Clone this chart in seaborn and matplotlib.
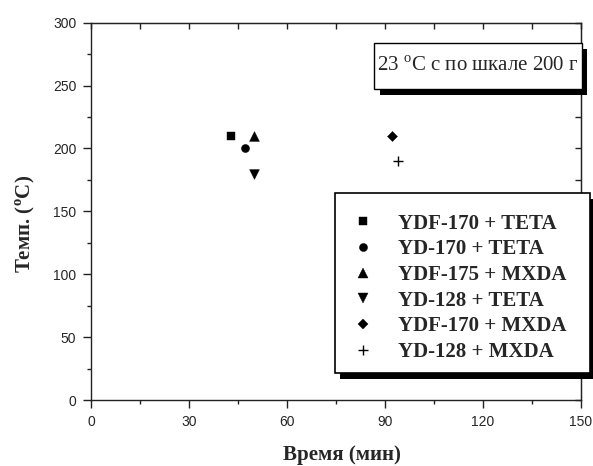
# Время отверждения vs температура для разных систем смола + отвердитель
import numpy as np
import pandas as pd
import seaborn as sns
import matplotlib.pyplot as plt
from matplotlib.lines import Line2D
from matplotlib.patches import Rectangle
from matplotlib.transforms import IdentityTransform

# data
systems = ["YDF-170 + TETA", "YD-170 + TETA", "YDF-175 + MXDA",
           "YD-128 + TETA", "YDF-170 + MXDA", "YD-128 + MXDA"]
time_min = [43, 47, 50, 50, 92, 94]
temp_c = [210, 200, 210, 180, 210, 190]
markers = ["s", "o", "^", "v", "D", "+"]
marker_sizes = [26, 34, 50, 50, 26, 45]

x_ticks = [0, 30, 60, 90, 120, 150]
y_ticks = [0, 50, 100, 150, 200, 250, 300]
note = "23 $^{\\mathrm{o}}$C с по шкале 200 г"

df = pd.DataFrame({"time": time_min, "temp": temp_c, "system": systems})

sns.set_style("ticks")
plt.rcParams["font.family"] = ["Liberation Serif", "DejaVu Serif"]
plt.rcParams["mathtext.fontset"] = "custom"
plt.rcParams["mathtext.rm"] = "Liberation Serif"
plt.rcParams["mathtext.bf"] = "Liberation Serif:bold"

fig = plt.figure(figsize=(5.93, 4.66), dpi=100)
ax = fig.add_axes([91 / 593, 66 / 466, 490 / 593, 377.3 / 466])

# one call per system, the markers mix filled and line art
for i, row in df.iterrows():
    lw = 1.0 if markers[i] == "+" else 0.3
    sns.scatterplot(x=[row["time"]], y=[row["temp"]], marker=markers[i],
                    s=marker_sizes[i], color="black", edgecolor="black",
                    linewidth=lw, ax=ax, legend=False, zorder=3)

ax.set_xlim(0, 150)
ax.set_ylim(0, 300)
ax.set_xticks(x_ticks)
ax.set_yticks(y_ticks)
ax.set_xticks(np.arange(15, 150, 30), minor=True)
ax.set_yticks(np.arange(25, 300, 50), minor=True)

for sp in ax.spines.values():
    sp.set_linewidth(1.0)
    sp.set_color("#222222")
ax.tick_params(which="major", direction="out", length=5.5, width=1.0,
               color="#222222", labelsize=10, labelcolor="#262626", pad=5)
ax.tick_params(which="minor", direction="out", length=3.2, width=1.0,
               color="#222222")
for lbl in ax.get_xticklabels() + ax.get_yticklabels():
    lbl.set_family("Liberation Sans")

# mirrored inward ticks on top and right
top = ax.secondary_xaxis("top")
top.set_xticks(np.arange(0, 151, 15))
top.tick_params(direction="in", length=4, width=1.0, color="#222222",
                labeltop=False)
right = ax.secondary_yaxis("right")
right.set_yticks(np.arange(0, 301, 25))
right.tick_params(direction="in", length=4, width=1.0, color="#222222",
                  labelright=False)

ax.set_xlabel("Время (мин)", fontsize=15, fontweight="bold")
ax.set_ylabel("Темп. ($^{\\mathbf{o}}$C)", fontsize=15, fontweight="bold")
ax.xaxis.set_label_coords(0.512, -0.12)
ax.yaxis.set_label_coords(-0.11, 0.467)

# note box with a black drop shadow
bx0, by0, bw, bh = 0.5776, 0.8243, 0.4244, 0.1219
ax.add_patch(Rectangle((bx0 + 0.0112, by0 - 0.0159), bw, bh, transform=ax.transAxes,
                       facecolor="black", edgecolor="none", zorder=6, clip_on=False))
ax.add_patch(Rectangle((bx0, by0), bw, bh, transform=ax.transAxes,
                       facecolor="white", edgecolor="black", linewidth=1.0,
                       zorder=7, clip_on=False))
ax.text(bx0 + bw / 2, by0 + bh / 2, note, transform=ax.transAxes,
        ha="center", va="center", fontsize=15, zorder=8)

handles = [Line2D([], [], ls="", marker=m, color="black", markersize=np.sqrt(s),
                  markeredgewidth=1.0 if m == "+" else 0.3)
           for m, s in zip(markers, marker_sizes)]
# blank tiny title only adds some room above the first row
leg = ax.legend(handles, systems, loc="upper left",
                bbox_to_anchor=(0.498, 0.0, 0.520, 0.5486), mode="expand",
                borderaxespad=0, borderpad=0.53, labelspacing=0.27,
                handlelength=1.63, handletextpad=0.87, fancybox=False,
                framealpha=1, edgecolor="black", title=" ", title_fontsize=3,
                prop={"family": "Liberation Serif", "weight": "bold", "size": 15})
leg.get_frame().set_linewidth(1.2)
leg.set_zorder(10)

fig.canvas.draw()
bb = leg.get_window_extent()
ax.add_artist(Rectangle((bb.x0 + 5, bb.y0 - 6), bb.width, bb.height,
                        transform=IdentityTransform(), facecolor="black",
                        edgecolor="none", zorder=9, clip_on=False))

fig.savefig("out.png", dpi=100)
